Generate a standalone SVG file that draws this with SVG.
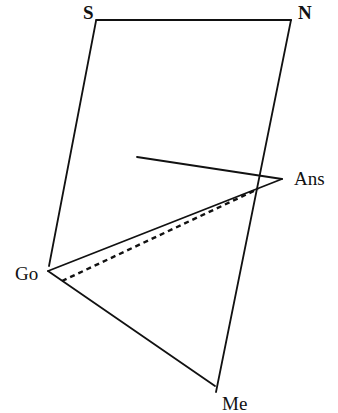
<svg xmlns="http://www.w3.org/2000/svg" width="338" height="413" viewBox="0 0 338 413">
<style>
.ln{stroke:#111;stroke-width:1.8;fill:none;stroke-linecap:round}
.dash{stroke:#111;stroke-width:2.4;fill:none;stroke-dasharray:5 4}
.lbl{font-family:"Liberation Serif","Times New Roman",serif;font-size:19px;fill:#111}
.b{font-weight:bold}
</style>
<rect width="338" height="413" fill="#fff"/>
<g id="connectors">
<line class="ln" x1="96" y1="20" x2="291" y2="20"/>
<line class="ln" x1="96" y1="21" x2="49" y2="266"/>
<line class="ln" x1="291" y1="20" x2="216" y2="392"/>
<line class="ln" x1="137" y1="157" x2="282" y2="179"/>
<line class="ln" x1="48" y1="271" x2="282" y2="179"/>
<line class="ln" x1="48" y1="271" x2="215" y2="386"/>
<line class="dash" x1="62" y1="281" x2="258" y2="189"/>
</g>
<g id="S"><text class="lbl b" x="83" y="19">S</text></g>
<g id="N"><text class="lbl b" x="298" y="19">N</text></g>
<g id="Ans"><text class="lbl" x="294" y="185">Ans</text></g>
<g id="Go"><text class="lbl" x="15" y="280">Go</text></g>
<g id="Me"><text class="lbl" x="222" y="410">Me</text></g>
</svg>
